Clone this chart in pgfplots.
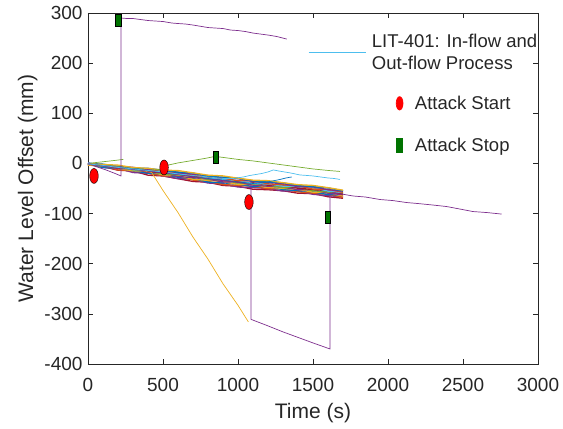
\documentclass[border=0pt]{standalone}
\usepackage{pgfplots}
\pgfplotsset{compat=1.18}
\usepackage{pgfplotstable}
\usepackage{fontspec}
\setmainfont{Liberation Sans}
\usetikzlibrary{calc}
\definecolor{axgray}{rgb}{0.15,0.15,0.15}
\definecolor{mblue}{rgb}{0,0.447,0.741}
\definecolor{morange}{rgb}{0.85,0.325,0.098}
\definecolor{myellow}{rgb}{0.929,0.694,0.125}
\definecolor{mpurple}{rgb}{0.494,0.184,0.556}
\definecolor{mgreen}{rgb}{0.466,0.674,0.188}
\definecolor{mcyan}{rgb}{0.301,0.745,0.933}
\definecolor{mred}{rgb}{0.635,0.078,0.184}
\definecolor{stopgreen}{rgb}{0,0.45,0}
\pgfdeclareplotmark{vellipse}{\pgfpathellipse{\pgfpointorigin}{\pgfqpoint{4.3pt}{0pt}}{\pgfqpoint{0pt}{7.5pt}}\pgfusepathqfillstroke}
\pgfdeclareplotmark{vrect}{\pgfpathrectangle{\pgfqpoint{-2.9pt}{-5.9pt}}{\pgfqpoint{5.8pt}{11.8pt}}\pgfusepathqfillstroke}
\pgfdeclareplotmark{lellipse}{\pgfpathellipse{\pgfpointorigin}{\pgfqpoint{3.4pt}{0pt}}{\pgfqpoint{0pt}{6.7pt}}\pgfusepathqfillstroke}
\pgfdeclareplotmark{lrect}{\pgfpathrectangle{\pgfqpoint{-2.9pt}{-7pt}}{\pgfqpoint{5.8pt}{14pt}}\pgfusepathqfillstroke}
\pgfplotsset{
  longline legend/.style={legend image code/.code={\draw[##1] (0pt,0pt) -- (57pt,0pt);}},
  shiftmark legend/.style={legend image code/.code={\draw[##1, overlay] plot coordinates {(91pt,0pt)};}},
}
\pgfplotstableread{
t s1 s2 s3 s4 s5 s6 s7 s8 s9 s10 s11 s12 s13
0 -2.5 -1.3 -3 0.2 -3.6 -0.4 -1.2 -1.9 1.3 -1.5 0.7 0 -0.8
100 -6.5 -8.1 -4.6 -8.2 -4.7 -5.3 -5.8 -2.4 -4.9 -2.4 -5 -1.5 -2.1
200 -13.5 -9.8 -13.2 -9.5 -9.8 -10.1 -6.5 -8.8 -6.1 -8.4 -5.8 -6.1 -3.4
300 -15 -18.2 -14.4 -14.5 -14.7 -10.9 -13.1 -10.2 -12.4 -9.6 -7.8 -9.9 -8.1
400 -23.5 -19.5 -19.6 -19.6 -15.6 -17.6 -14.7 -16.7 -13.7 -11.7 -12.8 -9.8 -9.8
500 -25 -24.9 -24.8 -20.6 -22.5 -19.4 -21.3 -18.1 -16 -16.9 -12.8 -13.6 -13.5
600 -30.5 -30.2 -26 -27.7 -24.4 -26.1 -22.9 -20.6 -21.3 -17 -18.8 -17.5 -14.2
700 -36 -31.7 -33.3 -30 -31.6 -28.3 -25.9 -26.5 -22.2 -23.8 -21.5 -19.1 -18.8
800 -37.5 -39.1 -35.7 -37.2 -33.8 -31.4 -32 -27.5 -29.1 -26.7 -24.3 -25.8 -23.4
900 -44 -40.6 -42.2 -38.7 -36.3 -36.9 -32.5 -34 -31.6 -29.2 -29.8 -27.3 -24.9
1000 -45.5 -47.1 -43.7 -41.2 -41.8 -37.4 -39 -36.5 -34.1 -34.7 -30.3 -29.8 -29.4
1100 -51.5 -48.1 -45.7 -46.2 -41.8 -43.4 -41 -38.5 -40.1 -34.7 -36.3 -34.8 -33.4
1200 -52.5 -50.1 -50.7 -46.2 -47.8 -45.4 -43 -43.5 -41.1 -40.7 -38.3 -36.8 -34.4
1300 -54.5 -55.1 -50.7 -52.2 -49.8 -47.4 -48 -43.5 -45.1 -42.7 -40.3 -38.8 -38.4
1400 -59.5 -55.1 -56.7 -54.2 -51.8 -52.4 -48 -49.5 -46.1 -44.7 -46.3 -43.8 -42.4
1500 -60 -61.6 -59.2 -56.7 -57.3 -52.9 -54.5 -52 -48.6 -51.2 -46.8 -46.3 -43.9
1600 -66.5 -64.1 -61.7 -62.2 -57.8 -59.4 -57 -54.5 -55.1 -51.7 -52.3 -48.8 -48.4
1700 -69.5 -67.1 -67.7 -63.2 -64.8 -62.4 -60 -61.5 -58.1 -57.7 -55.3 -54.8 -53.4
}\band
\begin{document}
\begin{tikzpicture}
\begin{axis}[
  scale only axis, width=450pt, height=351pt,
  xmin=0, xmax=3000, ymin=-400, ymax=300,
  xtick={0,500,...,3000}, ytick={-400,-300,...,300},
  tick align=inside, major tick length=5pt,
  axis line style={color=axgray, line width=0.6pt},
  every tick/.style={color=axgray, line width=0.6pt},
  tick label style={font=\fontsize{19}{22}\selectfont, color=axgray},
  xticklabel style={yshift=-11pt},
  yticklabel style={xshift=-2pt},
  xlabel style={yshift=-4pt},
  /pgf/number format/assume math mode=true,
  /pgf/number format/1000 sep={},
  xlabel={Time (s)}, ylabel={Water Level Offset (mm)},
  label style={font=\fontsize{21}{25}\selectfont, color=axgray},
  legend style={draw=none, fill=none, at={(0.489,0.9465)}, anchor=north west,
    font=\fontsize{18.5}{22}\selectfont, inner sep=0pt, row sep=19pt, column sep=4pt,
    cells={anchor=west, align=left}, text=black!85},
  legend cell align=left,
  every axis plot/.append style={line width=0.7pt},
  band/.style={line width=1.3pt, forget plot},
]
\addplot[mred, band] table[x=t,y=s1] {\band};
\addplot[mpurple, band] table[x=t,y=s2] {\band};
\addplot[morange, band] table[x=t,y=s3] {\band};
\addplot[mblue, band] table[x=t,y=s4] {\band};
\addplot[myellow, band] table[x=t,y=s5] {\band};
\addplot[mpurple, band] table[x=t,y=s6] {\band};
\addplot[mgreen, band] table[x=t,y=s7] {\band};
\addplot[mred, band] table[x=t,y=s8] {\band};
\addplot[mcyan, band] table[x=t,y=s9] {\band};
\addplot[morange, band] table[x=t,y=s10] {\band};
\addplot[mpurple, band] table[x=t,y=s11] {\band};
\addplot[mblue, band] table[x=t,y=s12] {\band};
\addplot[myellow, band] table[x=t,y=s13] {\band};
% orange/yellow drop
\addplot[myellow, forget plot] coordinates {(0,0) (100,-4) (200,-7) (300,-11) (424,-18) (500,-54) (600,-98) (700,-147) (800,-191) (900,-240) (1000,-283) (1069,-316)};
% green short
\addplot[mgreen, forget plot] coordinates {(0,0) (60,2) (120,4) (180,6) (235,8)};
% green long
\addplot[mgreen, forget plot] coordinates {(0,-1) (100,-4) (200,-8) (300,-11) (400,-14) (480,-12) (524,-4) (600,1) (700,6) (780,10) (847,14) (900,12) (950,10) (1000,8) (1100,5) (1200,1) (1300,-3) (1400,-7) (1500,-11) (1600,-14) (1680,-16)};
% dark blue
\addplot[mblue, forget plot] coordinates {(0,-1) (200,-8) (400,-15) (600,-22) (800,-30) (1000,-37) (1100,-40) (1180,-38) (1230,-35) (1280,-32) (1320,-29) (1358,-27)};
% purple B
\addplot[mpurple, forget plot] coordinates {(0,-1) (100,-5) (200,-8) (300,-12) (400,-15) (500,-19) (600,-22) (700,-26) (800,-31) (900,-34) (1000,-38) (1087,-42) (1087,-311) (1200,-324) (1300,-336) (1400,-347) (1500,-358) (1613,-370) (1613,-59) (1690,-61) (1769,-65) (1850,-67) (1947,-72) (2030,-74) (2124,-78) (2200,-80) (2300,-83) (2391,-86) (2480,-91) (2567,-96) (2660,-98) (2757,-101)};
% purple A
\addplot[mpurple, forget plot] coordinates {(0,0) (60,-7) (120,-13) (180,-20) (220,-25) (220,290) (260,289) (300,289) (350,287) (400,285) (450,284) (500,283) (560,280) (600,279) (650,278) (700,276) (760,273) (800,271) (850,270) (900,269) (950,266) (1000,265) (1050,263) (1100,260) (1150,258) (1200,256) (1260,253) (1325,248)};
% cyan
\addplot[mcyan, forget plot] coordinates {(0,-1) (100,-4) (200,-8) (300,-11) (400,-14) (500,-17) (600,-21) (700,-24) (800,-27) (900,-30) (970,-30) (1036,-27) (1080,-24) (1120,-22) (1160,-20) (1200,-17) (1236,-13) (1270,-15) (1310,-17) (1350,-19) (1413,-23) (1460,-24) (1500,-25) (1550,-27) (1600,-29) (1640,-30) (1680,-32)};
% attack start
\addplot[only marks, mark=vellipse, mark options={fill=red, draw=black, line width=0.4pt}, forget plot]
  coordinates {(40,-25) (507,-8) (1073,-77)};
% attack stop
\addplot[only marks, mark=vrect, mark options={fill=stopgreen, draw=black, line width=0.4pt}, forget plot]
  coordinates {(202,286) (851,12) (1598,-107)};
\addlegendimage{mcyan, line width=0.7pt, longline legend}
\addlegendentry{LIT-401: In-flow and\\Out-flow Process}
\addlegendimage{only marks, mark=lellipse, mark options={fill=red, draw=red}, shiftmark legend}
\addlegendentry[inner ysep=4pt]{\hspace*{43pt}Attack Start}
\addlegendimage{only marks, mark=lrect, mark options={fill=stopgreen, draw=stopgreen}, shiftmark legend}
\addlegendentry[inner ysep=4pt]{\hspace*{43pt}Attack Stop}
\coordinate (ll) at (rel axis cs:0,0);
\coordinate (ur) at (rel axis cs:1,1);
\end{axis}
\pgfresetboundingbox
\path ($(ll)+(-88pt,-65pt)$) rectangle ($(ur)+(25pt,13pt)$);
\end{tikzpicture}
\end{document}
